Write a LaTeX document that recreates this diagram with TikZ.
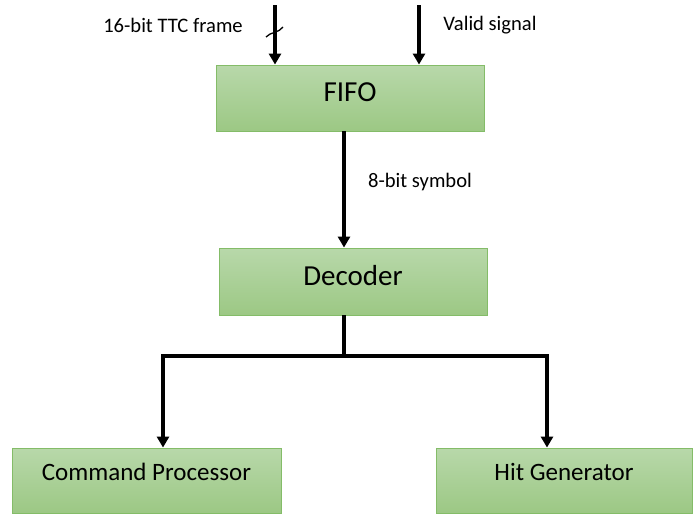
\documentclass[tikz,border=0pt]{standalone}
\usepackage{fontspec}
\setmainfont{Carlito}
\usetikzlibrary{arrows.meta}
\begin{document}
\begin{tikzpicture}[x=1pt,y=-1pt,
  block/.style={draw=boxedge,line width=0.9pt,top color=boxtop,bottom color=boxbot,
    minimum width=#1,inner sep=0pt,minimum height=66pt},
  block/.default=268pt,
  wire/.style={line width=3.5pt,line cap=butt},
  arr/.style={wire,-{Triangle[length=11pt,width=12pt]}},
  lbl/.style={font=\fontsize{20.6}{24}\selectfont,inner sep=0pt},
  big/.style={font=\fontsize{29}{34}\selectfont,inner sep=0pt},
  mid/.style={font=\fontsize{25}{30}\selectfont,inner sep=0pt}]
\definecolor{boxtop}{RGB}{184,216,170}
\definecolor{boxbot}{RGB}{156,200,132}
\definecolor{boxedge}{RGB}{132,188,104}
\useasboundingbox (0,0) rectangle (693,515);

% blocks
\node[block] (fifo) at (350,98) {};
\node[big] at ([yshift=6pt]fifo.center) {FIFO};
\node[block=268pt,minimum height=67pt] (dec) at (353,281.5) {};
\node[big] at ([yshift=6pt]dec.center) {Decoder};
\node[block=269pt,minimum height=65pt] (cp) at (146.5,480.5) {};
\node[mid] at ([yshift=-24pt]cp.north) {Command Processor};
\node[block=256pt,minimum height=65pt] (hg) at (564,480.5) {};
\node[mid] at ([yshift=-24pt]hg.north) {Hit Generator};

% inputs of the FIFO
\coordinate (in1) at (275,5);
\coordinate (in2) at (419,5);
\draw[arr] (in1) -- (in1 |- fifo.north);
\draw[arr] (in2) -- (in2 |- fifo.north);
\draw[line width=1.3pt] (266,37) .. controls (270,32) and (279,33) .. (283,27);
\node[lbl] at (173,25) {16-bit TTC frame};
\node[lbl] at (490,25) {Valid signal};

% FIFO to decoder
\coordinate (col) at (344,0);
\draw[arr] (col |- fifo.south) -- (col |- dec.north);
\node[lbl] at (420,182) {8-bit symbol};

% decoder fan-out
\coordinate (split) at (344,356);
\coordinate (ca) at (163,0);
\coordinate (cb) at (547,0);
\draw[wire] (col |- dec.south) -- (split);
\draw[arr] (split) -| (ca |- cp.north);
\draw[arr] (split) -| (cb |- hg.north);
\end{tikzpicture}
\end{document}
